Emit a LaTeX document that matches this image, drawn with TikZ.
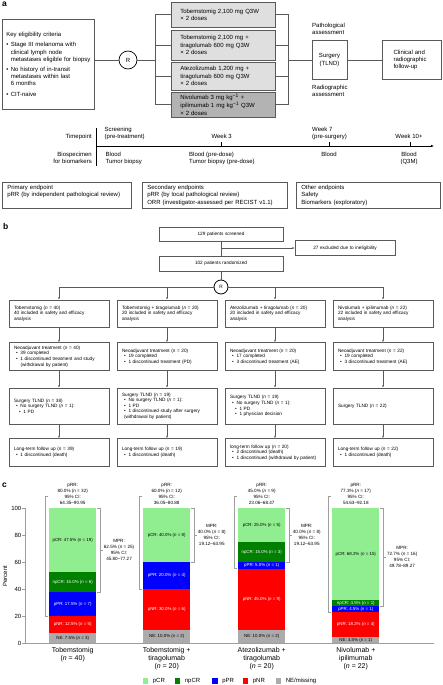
\documentclass[tikz,border=0pt]{standalone}
\usepackage{fontspec}
\setmainfont{Liberation Sans}
\usepackage{xcolor}
\usepackage{tikz}
\usetikzlibrary{arrows.meta, positioning, calc}

\definecolor{boxline}{HTML}{595959}
\definecolor{armfill}{HTML}{DFDFDF}
\definecolor{nivofill}{HTML}{B3B3B3}
\definecolor{axgray}{HTML}{9E9E9E}
\definecolor{pcrgreen}{HTML}{90EE90}
\definecolor{npcrgreen}{HTML}{007F00}
\definecolor{pprblue}{HTML}{0000FF}
\definecolor{pnrred}{HTML}{FF0000}
\definecolor{negray}{HTML}{ABABAB}

\newcommand{\fsA}{\fontsize{6}{7.2}\selectfont}
\newcommand{\fsB}{\fontsize{4.7}{5.6}\selectfont}
\newcommand{\fsC}{\fontsize{4.4}{5}\selectfont}
\newcommand{\fsD}{\fontsize{4.6}{6}\selectfont}
\newcommand{\fsE}{\fontsize{6}{7}\selectfont}
\newcommand{\fsF}{\fontsize{7}{8.3}\selectfont}
\newcommand{\blt}{\makebox[4.5pt][l]{\textbullet}}
\newcommand{\hind}[1]{\hspace*{#1pt}}
\newcommand{\nn}{\textit{n}}

\begin{document}
\begin{tikzpicture}[
		x=1pt, y=-1pt,
		panel/.style={font=\bfseries\fontsize{8.5}{8.5}\selectfont, inner sep=0pt, anchor=base west},
		txt/.style={font=\fsA, inner sep=0pt, align=left},
		abox/.style={draw=boxline, line width=0.6pt, font=\fsA, align=left, inner xsep=4pt, inner ysep=1pt},
		armbox/.style={abox, fill=armfill, text width=86pt, inner xsep=9pt, anchor=west},
		link/.style={draw=boxline, line width=0.6pt},
		tline/.style={draw=black, line width=0.8pt},
		rnd/.style={circle, draw=black, line width=0.7pt, inner sep=0pt, font=\fsA},
		bbox/.style={draw=boxline, line width=0.5pt, font=\fsB, align=left, text width=90pt, inner xsep=5pt, inner ysep=1pt},
		arr/.style={link, line width=0.5pt, -{Latex[length=2.5pt,width=2pt]}},
		seg/.style={minimum width=47pt, inner sep=0pt, outer sep=0pt, anchor=south, font=\fsC},
		pct/.style={minimum height=#1*1.35pt},
		blab/.style={font=\fsD, align=center, inner sep=0.5pt},
		brk/.style={draw=axgray, line width=0.6pt},
		axlab/.style={font=\fsE, inner sep=0pt},
		xlab/.style={font=\fsF, align=center, inner sep=0pt},
		lgsq/.style={minimum size=5.5pt, inner sep=0pt}
	]
	\useasboundingbox (0,0) rectangle (442,685);
	
	% a: study design
	\node[panel] (la) at (2,6.5) {a};
	\node[abox, text width=87pt, inner xsep=2.5pt, minimum height=90pt, anchor=north west] (elig) at (2,19) {\hind{1.5}Key eligibility criteria\\[3pt]
		\hind{1.5}\blt Stage III melanoma with\\
		\hind{6}clinical lymph node\\
		\hind{6}metastases eligible for biopsy\\[3pt]
		\hind{1.5}\blt No history of in-transit\\
		\hind{6}metastases within last\\
		\hind{6}6 months\\[3pt]
		\hind{1.5}\blt CIT-naive};
	\node[rnd, minimum size=18pt] (ra) at (128,60) {R};
	\node[armbox, minimum height=25pt] (t1) at (171,14.5) {Tobemstomig 2,100 mg Q3W\\× 2 doses};
	\node[armbox, minimum height=30pt] (t2) at (171,45) {Tobemstomig 2,100 mg +\\tiragolumab 600 mg Q3W\\× 2 doses};
	\node[armbox, minimum height=28pt] (t3) at (171,76) {Atezolizumab 1,200 mg +\\tiragolumab 600 mg Q3W\\× 2 doses};
	\node[armbox, fill=nivofill, minimum height=25pt] (t4) at (171,104.5) {Nivolumab 3 mg kg\textsuperscript{−1} +\\ipilimumab 1 mg kg\textsuperscript{−1} Q3W\\× 2 doses};
	\node[abox, align=center, text width=27pt, minimum height=39pt] (surg) at (329.5,60) {Surgery\\(TLND)};
	\node[abox, text width=37pt, inner xsep=11pt, minimum height=39pt] (fu) at (412,60) {Clinical and\\radiographic\\follow-up};
	\node[txt, anchor=west] (patho) at (312,28.7) {Pathological\\assessment};
	\node[txt, anchor=west] (radio) at (312,90.7) {Radiographic\\assessment};
	
	\coordinate (jl) at (155,60);
	\coordinate (jr) at (288,60);
	\draw[link] (elig.east |- ra) -- (ra.west);
	\draw[link] (ra.east) -- (jl);
	\draw[link] (jl |- t1.west) -- (jl |- t4.west);
	\draw[link] (jr |- t1.east) -- (jr |- t4.east);
	\foreach \t in {t1,t2,t3,t4} {
		\draw[link] (jl |- \t.west) -- (\t.west);
		\draw[link] (\t.east) -- (jr |- \t.east);
	}
	\draw[link] (jr) -- (surg.west);
	\draw[link] (surg.east) -- (fu.west);
	
	% timeline
	\coordinate (bar0) at (96.7,128);
	\coordinate (bar1) at (96.7,166);
	\coordinate (ax0) at (96.7,146);
	\coordinate (ax1) at (434,146);
	\coordinate (w3) at (221.7,146);
	\coordinate (w7) at (329,146);
	\coordinate (w10) at (410,146);
	\draw[tline, line width=1.1pt] (bar0) -- (bar1);
	\draw[tline, -{Latex[length=3pt,width=2.4pt]}] (ax0) -- (ax1);
	\draw[tline] (w3) -- ++(0,-4);
	\draw[tline] (w7) -- ++(0,-4);
	\draw[tline] (w10) -- ++(0,-4);
	
	\node[txt, anchor=south east, align=right, text depth=1.5pt] (tpt) at (92,140) {Timepoint};
	\node[txt, anchor=south west, text depth=1.5pt] (scrn) at (104.5,140) {Screening\\(pre-treatment)};
	\node[txt, anchor=south, text depth=1.5pt] (lw3) at (221.7,140) {Week 3};
	\node[txt, anchor=south west, text depth=1.5pt] (lw7) at (312,140) {Week 7\\(pre-surgery)};
	\node[txt, anchor=south, text depth=1.5pt] (lw10) at (409,140) {Week 10+};
	
	\node[txt, anchor=north east, align=right] (bios) at (92,152.2) {Biospecimen\\for biomarkers};
	\node[txt, anchor=north west] (s0) at (105.5,152.2) {Blood\\Tumor biopsy};
	\node[txt, anchor=north west] (s3) at (189,152.2) {Blood (pre-dose)\\Tumor biopsy (pre-dose)};
	\node[txt, anchor=north] (s7) at (329,152.2) {Blood};
	\node[txt, anchor=north, align=center] (s10) at (409,152.2) {Blood\\(Q3M)};
	
	\node[abox, text width=119pt, inner xsep=5pt, minimum height=26pt, anchor=north west] (ep1) at (2,182) {Primary endpoint\\pRR (by independent pathological review)\\\strut};
	\node[abox, text width=135pt, inner xsep=5pt, minimum height=26pt, anchor=north west] (ep2) at (142,182) {Secondary endpoints\\pRR (by local pathological review)\\ORR (investigator-assessed per RECIST v1.1)};
	\node[abox, text width=134pt, inner xsep=5pt, minimum height=26pt, anchor=north west] (ep3) at (296,182) {Other endpoints\\Safety\\Biomarkers (exploratory)};
	
	% b: patient flow
	\node[panel] (lb) at (3,229) {b};
	\node[bbox, align=center, text width=114pt, minimum height=14pt] (scr) at (221,234) {129 patients screened};
	\node[bbox, align=center, minimum height=15pt] (excl) at (345,248) {27 excluded due to ineligibility};
	\node[bbox, align=center, text width=114pt, minimum height=15pt] (rand) at (221,263.5) {102 patients randomized};
	\node[rnd, minimum size=14pt, line width=0.8pt, font=\fsB] (rb) at (221,287) {R};
	
	\node[bbox, minimum height=27pt] (arm1) at (59,313.5) {Tobemstomig (\nn{} = 40)\\40 included in safety and efficacy\\analysis};
	\node[bbox, minimum height=27pt] (arm2) at (167,313.5) {Tobemstomig + tiragolumab (\nn{} = 20)\\20 included in safety and efficacy\\analysis};
	\node[bbox, minimum height=27pt] (arm3) at (275,313.5) {Atezolizumab + tiragolumab (\nn{} = 20)\\20 included in safety and efficacy\\analysis};
	\node[bbox, minimum height=27pt] (arm4) at (383,313.5) {Nivolumab + ipilimumab (\nn{} = 22)\\22 included in safety and efficacy\\analysis};
	
	\node[bbox, minimum height=28pt, below=15pt of arm1] (neo1) {Neoadjuvant treatment (\nn{} = 40)\\\hind{2}\blt 39 completed\\\hind{2}\blt 1 discontinued treatment and study\\\hind{6.5}(withdrawal by patient)};
	\node[bbox, minimum height=28pt, below=15pt of arm2] (neo2) {Neoadjuvant treatment (\nn{} = 20)\\\hind{2}\blt 19 completed\\\hind{2}\blt 1 discontinued treatment (PD)};
	\node[bbox, minimum height=28pt, below=15pt of arm3] (neo3) {Neoadjuvant treatment (\nn{} = 20)\\\hind{2}\blt 17 completed\\\hind{2}\blt 3 discontinued treatment (AE)};
	\node[bbox, minimum height=28pt, below=15pt of arm4] (neo4) {Neoadjuvant treatment (\nn{} = 22)\\\hind{2}\blt 19 completed\\\hind{2}\blt 3 discontinued treatment (AE)};
	
	\node[bbox, minimum height=36pt, below=17pt of neo1] (tlnd1) {Surgery TLND (\nn{} = 38)\\\hind{2}\blt No surgery TLND (\nn{} = 1):\\\hind{5}\blt 1 PD};
	\node[bbox, minimum height=36pt, below=17pt of neo2] (tlnd2) {Surgery TLND (\nn{} = 19)\\\hind{2}\blt No surgery TLND (\nn{} = 1):\\\hind{2}\blt 1 PD\\\hind{2}\blt 1 discontinued study after surgery\\\hind{2}(withdrawal by patient)};
	\node[bbox, minimum height=36pt, below=17pt of neo3] (tlnd3) {Surgery TLND (\nn{} = 19)\\\hind{2}\blt No surgery TLND (\nn{} = 1):\\\hind{5}\blt 1 PD\\\hind{5}\blt 1 physician decision};
	\node[bbox, minimum height=36pt, below=17pt of neo4] (tlnd4) {Surgery TLND (\nn{} = 22)};
	
	\node[bbox, minimum height=28pt, below=14pt of tlnd1] (fol1) {Long-term follow up (\nn{} = 39)\\\hind{2}\blt 1 discontinued (death)};
	\node[bbox, minimum height=28pt, below=14pt of tlnd2] (fol2) {Long-term follow up (\nn{} = 19)\\\hind{2}\blt 1 discontinued (death)};
	\node[bbox, minimum height=28pt, below=14pt of tlnd3] (fol3) {long-term follow up (\nn{} = 20)\\\hind{2}\blt 2 discontinued (death)\\\hind{2}\blt 1 discontinued (withdrawal by patient)};
	\node[bbox, minimum height=28pt, below=14pt of tlnd4] (fol4) {Long-term follow up (\nn{} = 22)\\\hind{2}\blt 1 discontinued (death)};
	
	\draw[link, line width=0.5pt] (scr) -- (rand);
	\draw[arr] (scr.south |- excl.west) -- (excl.west);
	\draw[link, line width=0.5pt] (rand) -- (rb);
	\draw[link, line width=0.5pt] (arm1.north |- rb) -- (rb.west);
	\draw[link, line width=0.5pt] (rb.east) -- (arm4.north |- rb);
	\foreach \i in {1,2,3,4} {
		\draw[arr] (arm\i.north |- rb) -- (arm\i.north);
		\draw[arr] (arm\i) -- (neo\i);
		\draw[arr] (neo\i) -- (tlnd\i);
		\draw[arr] (tlnd\i) -- (fol\i);
	}
	
	% c: pathological response
	\node[panel] (lc) at (2,487.5) {c};
	
	\node[seg, fill=negray, pct=7.5] (ne1) at (72.7,643) {NE: 7.5\% (\nn{} = 3)};
	\node[seg, fill=pnrred, text=white, pct=12.5] (nr1) at (ne1.north) {pNR: 12.5\% (\nn{} = 5)};
	\node[seg, fill=pprblue, text=white, pct=17.5] (pr1) at (nr1.north) {pPR: 17.5\% (\nn{} = 7)};
	\node[seg, fill=npcrgreen, text=white, pct=15] (nc1) at (pr1.north) {npCR: 15.0\% (\nn{} = 6)};
	\node[seg, fill=pcrgreen, pct=47.5] (pc1) at (nc1.north) {pCR: 47.5\% (\nn{} = 19)};
	
	\node[seg, fill=negray, pct=10] (ne2) at (166.7,643) {NE: 10.0\% (\nn{} = 2)};
	\node[seg, fill=pnrred, text=white, pct=30] (nr2) at (ne2.north) {pNR: 30.0\% (\nn{} = 6)};
	\node[seg, fill=pprblue, text=white, pct=20] (pr2) at (nr2.north) {pPR: 20.0\% (\nn{} = 4)};
	\node[seg, fill=pcrgreen, pct=40] (pc2) at (pr2.north) {pCR: 40.0\% (\nn{} = 8)};
	
	\node[seg, fill=negray, pct=10] (ne3) at (261.7,643) {NE: 10.0\% (\nn{} = 2)};
	\node[seg, fill=pnrred, text=white, pct=45] (nr3) at (ne3.north) {pNR: 45.0\% (\nn{} = 9)};
	\node[seg, fill=pprblue, text=white, pct=5] (pr3) at (nr3.north) {pPR: 5.0\% (\nn{} = 1)};
	\node[seg, fill=npcrgreen, text=white, pct=15] (nc3) at (pr3.north) {npCR: 15.0\% (\nn{} = 3)};
	\node[seg, fill=pcrgreen, pct=25] (pc3) at (nc3.north) {pCR: 25.0\% (\nn{} = 5)};
	
	\node[seg, fill=negray, pct=4.5] (ne4) at (355.8,643) {NE: 4.5\% (\nn{} = 1)};
	\node[seg, fill=pnrred, text=white, pct=18.2] (nr4) at (ne4.north) {pNR: 18.2\% (\nn{} = 4)};
	\node[seg, fill=pprblue, text=white, pct=4.5] (pr4) at (nr4.north) {pPR: 4.5\% (\nn{} = 1)};
	\node[seg, fill=npcrgreen, text=white, pct=4.5] (nc4) at (pr4.north) {npCR: 4.5\% (\nn{} = 1)};
	\node[seg, fill=pcrgreen, pct=68.3] (pc4) at (nc4.north) {pCR: 68.2\% (\nn{} = 15)};
	
	% axes
	\draw[brk] (25,508) -- (25,643) -- (434,643);
	\foreach \v/\py in {0/643,20/616,40/589,60/562,80/535,100/508} {
		\draw[brk] (22,\py) -- (25,\py);
		\node[axlab, anchor=east] (yt\v) at (21.5,\py) {\v};
	}
	\node[axlab, rotate=90] (ylab) at (5,576) {Percent};
	
	% pRR brackets and labels
	\node[blab] (prr1) at (72.7,494) {pRR:\\80.0\% (\nn{} = 32)\\95\% CI:\\64.35–90.95};
	\node[blab] (prr2) at (166.7,494) {pRR:\\60.0\% (\nn{} = 12)\\95\% CI:\\36.05–80.88};
	\node[blab] (prr3) at (261.7,494) {pRR:\\45.0\% (\nn{} = 9)\\95\% CI:\\23.06–68.47};
	\node[blab] (prr4) at (355.8,494) {pRR:\\77.3\% (\nn{} = 17)\\95\% CI:\\54.63–92.18};
	\foreach \i in {1,2,3,4} {
		\draw[brk] ([xshift=-1pt]nr\i.north west) -- ++(-3,0) |- ([xshift=-1pt,yshift=12pt]pc\i.north west);
	}
	
	% MPR brackets and labels
	\coordinate (m1) at ($(pc1.north east)!0.5!(nc1.south east)+(4,0)$);
	\coordinate (m2) at ($(pc2.north east)!0.5!(pc2.south east)+(4,0)$);
	\coordinate (m3) at ($(pc3.north east)!0.5!(nc3.south east)+(4,0)$);
	\coordinate (m4) at ($(pc4.north east)!0.5!(nc4.south east)+(4,0)$);
	\draw[brk] ([xshift=1pt]pc1.north east) -- ++(3,0) |- ([xshift=1pt]nc1.south east);
	\draw[brk] ([xshift=1pt]pc2.north east) -- ++(3,0) |- ([xshift=1pt]pc2.south east);
	\draw[brk] ([xshift=1pt]pc3.north east) -- ++(3,0) |- ([xshift=1pt]nc3.south east);
	\draw[brk] ([xshift=1pt]pc4.north east) -- ++(3,0) |- ([xshift=1pt]nc4.south east);
	\node[blab, anchor=west] (mpr1) at ($(m1)+(3,0)$) {MPR:\\62.5\% (\nn{} = 25)\\95\% CI:\\45.80–77.27};
	\node[blab, anchor=west] (mpr2) at ($(m2)+(3,0)$) {MPR:\\40.0\% (\nn{} = 8)\\95\% CI:\\19.12–63.95};
	\node[blab, anchor=west] (mpr3) at ($(m3)+(3,0)$) {MPR:\\40.0\% (\nn{} = 8)\\95\% CI:\\19.12–63.95};
	\node[blab, anchor=west] (mpr4) at ($(m4)+(3,0)$) {MPR:\\72.7\% (\nn{} = 16)\\95\% CI:\\49.78–89.27};
	\foreach \i in {1,2,3,4} {
		\draw[brk] (m\i) -- (mpr\i.west);
	}
	
	% bar names
	\node[xlab, below=4pt of ne1] (xl1) {Tobemstomig\\(\nn{} = 40)};
	\node[xlab, below=4pt of ne2] (xl2) {Tobemstomig +\\tiragolumab\\(\nn{} = 20)};
	\node[xlab, below=4pt of ne3] (xl3) {Atezolizumab +\\tiragolumab\\(\nn{} = 20)};
	\node[xlab, below=4pt of ne4] (xl4) {Nivolumab +\\ipilimumab\\(\nn{} = 22)};
	
	% legend
	\node[lgsq, fill=pcrgreen] (lg1) at (145.7,681) {};
	\node[axlab, right=4pt of lg1] (lt1) {pCR};
	\node[lgsq, fill=npcrgreen] (lg2) at (177.7,681) {};
	\node[axlab, right=4pt of lg2] (lt2) {npCR};
	\node[lgsq, fill=pprblue] (lg3) at (215.2,681) {};
	\node[axlab, right=4pt of lg3] (lt3) {pPR};
	\node[lgsq, fill=pnrred] (lg4) at (245.7,681) {};
	\node[axlab, right=4pt of lg4] (lt4) {pNR};
	\node[lgsq, fill=negray] (lg5) at (278.7,681) {};
	\node[axlab, right=4pt of lg5] (lt5) {NE/missing};
	
\end{tikzpicture}
\end{document}
